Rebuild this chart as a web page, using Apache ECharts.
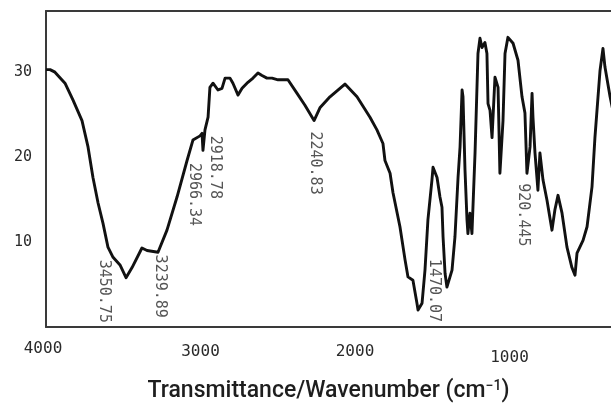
<!DOCTYPE html>
<html>
<head>
<meta charset="utf-8">
<script src="https://cdn.jsdelivr.net/npm/echarts@6/dist/echarts.min.js"></script>
<style>
html,body{margin:0;padding:0;background:#fff;}
#chart{width:611px;height:404px;}
</style>
</head>
<body>
<div id="chart"></div>
<script>
// Wavenumber (cm-1) and transmittance values
const wavenumbers = [4000,3974,3942,3877,3825,3767,3728,3696,3663,3631,3599,3566,3521,3482,3443,3379,3346,3275,3217,3152,3087,3049,3003,2990,2984,2971,2951,2939,2919,2887,2861,2841,2809,2790,2757,2731,2693,2660,2628,2602,2570,2537,2498,2434,2375,2324,2265,2227,2162,2065,1987,1903,1858,1819,1806,1773,1754,1709,1676,1657,1625,1599,1592,1566,1547,1528,1502,1495,1469,1450,1437,1430,1417,1405,1372,1353,1333,1320,1307,1301,1288,1275,1269,1256,1243,1223,1204,1191,1178,1159,1146,1139,1126,1113,1094,1074,1062,1042,1029,1010,977,945,919,900,887,867,854,848,835,816,803,783,757,725,706,686,660,628,596,576,563,524,498,466,447,414,395,382,349,317];
const transmittance = [30.3,30.3,30.0,28.7,26.7,24.3,21.2,17.6,14.6,12.2,9.4,8.2,7.3,5.8,7.0,9.3,9.0,8.8,11.4,15.3,19.6,22.0,22.5,22.8,20.8,23.2,24.7,28.2,28.7,27.9,28.1,29.3,29.3,28.7,27.3,28.1,28.8,29.3,29.9,29.6,29.3,29.3,29.1,29.1,27.5,26.1,24.3,25.8,27.1,28.6,27.1,24.7,23.2,21.6,19.6,18.1,15.8,11.8,7.9,5.9,5.5,2.8,2.0,2.8,6.7,12.6,17.3,18.8,17.6,15.3,14.1,10.6,6.3,4.7,6.7,10.6,17.6,21.2,27.9,27.1,18.5,12.6,11.0,13.4,11.0,20.5,32.2,34.0,32.9,33.5,32.2,26.3,25.5,22.3,29.4,28.2,18.1,24.3,32.2,34.1,33.4,31.4,27.1,25.2,18.1,21.2,27.5,24.7,20.5,16.1,20.5,17.3,14.9,11.4,13.8,15.5,13.4,9.4,7.0,6.1,8.7,10.2,11.8,16.5,22.3,30.2,32.8,30.6,27.1,24.3];

// Peak annotations
const peakLabels = ['3450.75','3239.89','2966.34','2918.78','2240.83','1470.07','920.445'];
const peakLabelX = [3625,3262,3042,2906,2259,1489,913];
const peakLabelY = [4.2,4.8,15.6,18.8,19.3,4.3,13.2];

// Axis ticks
const xTicks = [4000,3000,2000,1000];
const yTicks = [10,20,30];
const xTitle = 'Transmittance/Wavenumber (cm{sup|−1})';

const chart = echarts.init(document.getElementById('chart'), null, {renderer:'canvas'});
const frameColor = '#3a3a3a';
const labelColor = '#2a2a2a';
const option = {
  animation:false,
  backgroundColor:'#ffffff',
  grid:{left:46, top:11, bottom:77, right:0, show:false, containLabel:false, outerBoundsMode:'none'},
  xAxis:[{
    type:'value', inverse:true, min:343, max:4000,
    position:'bottom',
    axisLine:{show:true, onZero:false, lineStyle:{color:frameColor, width:2}},
    axisTick:{show:false},
    splitLine:{show:false},
    axisLabel:{
      customValues:xTicks,
      margin:14,
      fontFamily:'DejaVu Sans Mono', fontSize:16, color:labelColor,
      formatter:function(v){
        return v === 1000 ? '{lo|' + v + '}' : (v === 4000 ? '{hi|' + v + '}' : '{n|' + v + '}');
      },
      rich:{
        n:{fontFamily:'DejaVu Sans Mono', fontSize:16, color:labelColor, padding:[3,0,0,0]},
        hi:{fontFamily:'DejaVu Sans Mono', fontSize:16, color:labelColor, padding:[0,6,0,0]},
        lo:{fontFamily:'DejaVu Sans Mono', fontSize:16, color:labelColor, padding:[9,0,0,0]}
      }
    },
    name:xTitle, nameLocation:'middle', nameGap:52,
    nameTextStyle:{
      fontFamily:'Roboto', fontWeight:500, fontSize:23, color:'#1e1e1e',
      rich:{
        sup:{fontFamily:'Roboto', fontWeight:500, fontSize:14, color:'#1e1e1e', verticalAlign:'top', padding:[0,0,11,0]}
      }
    }
  },{
    type:'value', inverse:true, min:343, max:4000,
    position:'top',
    axisLine:{show:true, onZero:false, lineStyle:{color:frameColor, width:2}},
    axisTick:{show:false}, axisLabel:{show:false}, splitLine:{show:false}
  }],
  yAxis:{
    type:'value', min:0, max:37.2, interval:10,
    axisLine:{show:true, onZero:false, lineStyle:{color:frameColor, width:2}},
    axisTick:{show:false},
    splitLine:{show:false},
    axisLabel:{
      margin:14, fontFamily:'DejaVu Sans Mono', fontSize:15, color:labelColor,
      formatter:function(v){ return yTicks.indexOf(v) >= 0 ? String(v) : ''; }
    }
  },
  series:[
    {
      type:'line',
      xAxisIndex:0,
      data:wavenumbers.map((w,i)=>[w, transmittance[i]]),
      symbol:'none',
      lineStyle:{color:'#111', width:2.9, join:'round'},
      clip:true,
      z:3
    },
    {
      type:'scatter',
      xAxisIndex:0,
      data:peakLabels.map((s,i)=>({value:[peakLabelX[i], peakLabelY[i]], name:s})),
      symbolSize:0,
      silent:true,
      label:{
        show:true, position:'inside', rotate:-90,
        formatter:function(p){ return p.name; },
        fontFamily:'DejaVu Sans Mono', fontSize:15, color:labelColor,
        align:'center', verticalAlign:'middle'
      },
      z:4
    }
  ]
};
chart.setOption(option);
</script>
</body>
</html>
